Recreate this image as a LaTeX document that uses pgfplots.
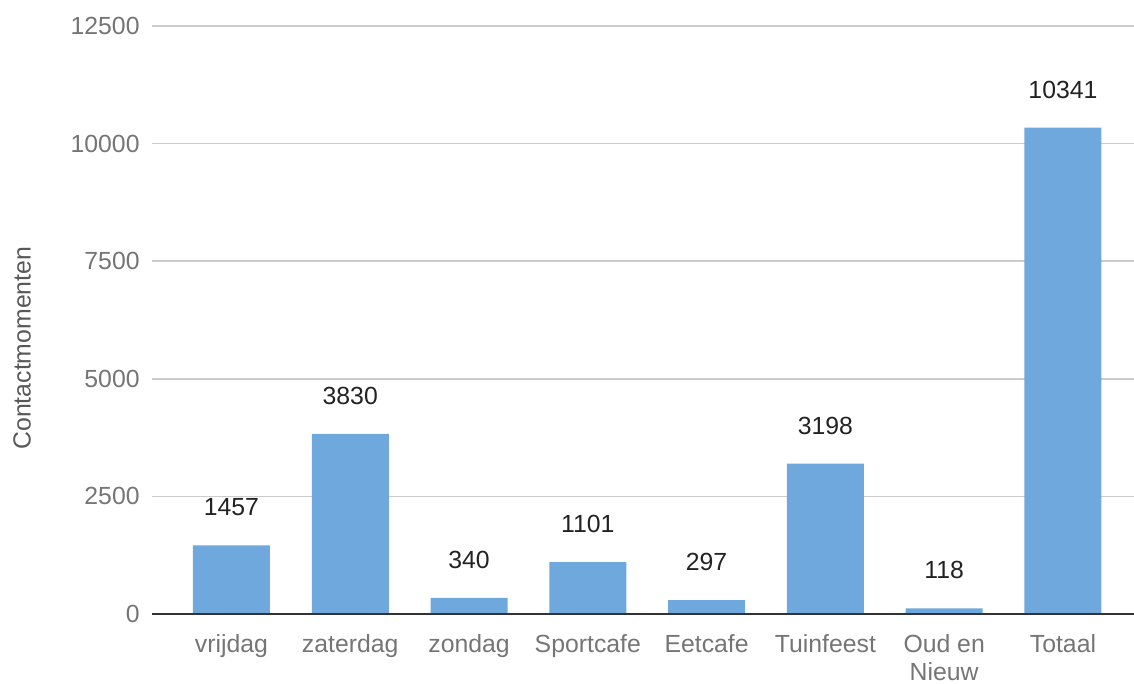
\documentclass[border=0pt]{standalone}
\usepackage{pgfplots}
\pgfplotsset{compat=1.18}
\usepackage{fontspec}
\setmainfont{Liberation Sans}
\definecolor{barblue}{HTML}{6FA8DC}
\definecolor{gridgray}{HTML}{CCCCCC}
\definecolor{ticktext}{HTML}{757575}
\definecolor{labeltext}{HTML}{222222}

\begin{document}
\begin{tikzpicture}
\begin{axis}[
  scale only axis,
  width=491pt,height=294pt,
  ybar,bar width=38.5pt,
  xmin=-0.669,xmax=7.598,
  ymin=0,ymax=12500,
  scaled y ticks=false,
  ytick={0,2500,5000,7500,10000,12500},
  xtick={0,1,2,3,4,5,6,7},
  xticklabels={vrijdag,zaterdag,zondag,Sportcafe,Eetcafe,Tuinfeest,{Oud en\\Nieuw},Totaal},
  axis line style={draw=none},
  axis x line*=bottom,
  axis y line*=left,
  major tick length=0pt,
  ymajorgrids,
  grid style={gridgray,line width=0.75pt},
  font=\fontsize{12.4}{14.2}\selectfont,
  /pgf/number format/assume math mode=true,
  /pgf/number format/1000 sep={},
  yticklabel style={text=ticktext,anchor=east,inner sep=0pt,xshift=-6pt},
  xticklabel style={text=ticktext,anchor=north,inner sep=0pt,yshift=-10pt,align=center},
  ylabel={Contactmomenten},
  every axis y label/.style={at={(axis description cs:-0.1324,0.452)},rotate=90,anchor=center,text=ticktext!75!black},
  nodes near coords,
  every node near coord/.append style={text=labeltext,anchor=center,yshift=19pt,
    /pgf/number format/assume math mode=true,/pgf/number format/1000 sep={}},
  clip=false]
\addplot[fill=barblue,draw=none] coordinates {
  (0,1457) (1,3830) (2,340) (3,1101) (4,297) (5,3198) (6,118) (7,10341)};
\draw[color=black!80,line width=0.75pt] (axis cs:-0.669,0) -- (axis cs:7.598,0);
\coordinate (sw) at (rel axis cs:0,0);
\coordinate (ne) at (rel axis cs:1,1);
\end{axis}
\pgfresetboundingbox
\useasboundingbox ([xshift=-76pt,yshift=-35pt]sw) rectangle ([yshift=13pt]ne);
\end{tikzpicture}
\end{document}
